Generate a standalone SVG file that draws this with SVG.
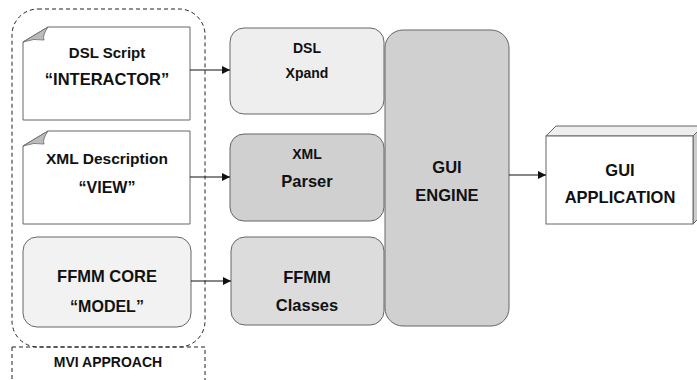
<svg xmlns="http://www.w3.org/2000/svg" width="697" height="380" viewBox="0 0 697 380">
<defs>
<style>
text{font-family:"Liberation Sans",Arial,sans-serif;font-weight:bold;fill:#111;text-anchor:middle;dominant-baseline:central}
.box{stroke:#666;stroke-width:1}
.dash{fill:none;stroke:#222;stroke-width:1;stroke-dasharray:4,3}
.conn{stroke:#111;stroke-width:1.2;fill:none;marker-end:url(#arr)}
</style>
<marker id="arr" viewBox="0 0 10 10" refX="10" refY="5" markerWidth="8" markerHeight="8" markerUnits="userSpaceOnUse" orient="auto">
<path d="M0,0 L10,5 L0,10 Z" fill="#111"/>
</marker>
</defs>
<rect width="697" height="380" fill="#fff"/>
<g id="container">
<rect class="dash" x="12" y="9" width="193" height="338" rx="26"/>
</g>
<g id="mvi">
<rect class="dash" x="12" y="347" width="193" height="40"/>
<text x="108" y="362" font-size="14">MVI APPROACH</text>
</g>
<g id="dsl-script">
<path class="box" fill="#fff" d="M48,27 H190 V120 H23 V42 Z"/>
<path d="M23,42 L48,27 Q42,36 44,40 Q34,38 23,42 Z" fill="#bbb" stroke="#666" stroke-width="0.8"/>
<text x="107" y="52" font-size="15">DSL Script</text>
<text x="107" y="79" font-size="16.5">“INTERACTOR”</text>
</g>
<g id="xml-desc">
<path class="box" fill="#fff" d="M48,131 H190 V224 H23 V146 Z"/>
<path d="M23,146 L48,131 Q42,140 44,144 Q34,142 23,146 Z" fill="#bbb" stroke="#666" stroke-width="0.8"/>
<text x="107" y="158" font-size="15.5">XML Description</text>
<text x="107" y="187" font-size="16">“VIEW”</text>
</g>
<g id="ffmm-core">
<rect class="box" x="23" y="237" width="168" height="90" rx="14" fill="#f2f2f2"/>
<text x="107" y="276" font-size="16.5">FFMM CORE</text>
<text x="107" y="306" font-size="16">“MODEL”</text>
</g>
<g id="dsl-xpand">
<rect class="box" x="230" y="28" width="154" height="86" rx="14" fill="#eeeeee"/>
<text x="307" y="48" font-size="14">DSL</text>
<text x="307" y="73" font-size="14">Xpand</text>
</g>
<g id="xml-parser">
<rect class="box" x="230" y="134" width="154" height="87" rx="14" fill="#d0d0d0"/>
<text x="307" y="154" font-size="14">XML</text>
<text x="307" y="181" font-size="16.5">Parser</text>
</g>
<g id="ffmm-classes">
<rect class="box" x="231" y="237" width="153" height="88" rx="14" fill="#dcdcdc"/>
<text x="307" y="277" font-size="16.5">FFMM</text>
<text x="307" y="305" font-size="16.5">Classes</text>
</g>
<g id="gui-engine">
<rect class="box" x="385" y="30" width="124" height="296" rx="18" fill="#d0d0d0"/>
<text x="447" y="167" font-size="16.5">GUI</text>
<text x="447" y="195" font-size="16.5">ENGINE</text>
</g>
<g id="gui-app">
<path d="M546,136 L556,126 H703 L693,136 Z" fill="#eeeeee" stroke="#666" stroke-width="1"/>
<path d="M693,136 L703,126 V214 L693,224 Z" fill="#cccccc" stroke="#666" stroke-width="1"/>
<rect class="box" x="546" y="136" width="147" height="88" fill="#fff"/>
<text x="620" y="170" font-size="16.5">GUI</text>
<text x="620" y="197" font-size="16.5">APPLICATION</text>
</g>
<g id="connectors">
<line class="conn" x1="190" y1="70" x2="230" y2="70"/>
<line class="conn" x1="190" y1="177" x2="230" y2="177"/>
<line class="conn" x1="191" y1="281" x2="231" y2="281"/>
<line class="conn" x1="509" y1="175" x2="546" y2="175"/>
</g>
</svg>
